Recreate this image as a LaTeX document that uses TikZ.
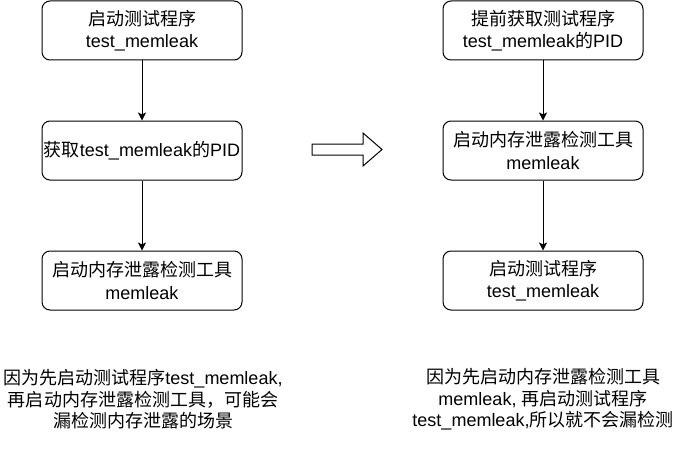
\documentclass[tikz,border=0pt]{standalone}
\usepackage{fontspec}
\setmainfont{Liberation Sans}
\newfontfamily\cjk{Noto Sans CJK SC}
\newcommand{\zh}[1]{{\cjk #1}}
\usetikzlibrary{arrows.meta}

\begin{document}
\begin{tikzpicture}[x=1pt,y=-1pt,line width=1pt,
	stepbox/.style={draw,rounded corners=8pt,minimum width=200pt,minimum height=59pt,
		inner sep=0pt,align=center,font=\fontsize{18}{22.5}\selectfont},
	note/.style={align=center,font=\fontsize{18}{21.5}\selectfont},
	flow/.style={-{Stealth[length=8pt,width=8pt,inset=2pt]}}]
	\useasboundingbox (0,0) rectangle (685,452);
	% left column
	\node[stepbox] (start) at (142,30.5) {\zh{启动测试程序}\\test\_memleak};
	\node[stepbox] (getpid) at (142,150.5) {\zh{获取}test\_memleak\zh{的}PID};
	\node[stepbox] (tool) at (142,280.5) {\zh{启动内存泄露检测工具}\\memleak};
	\draw[flow] (start) -- (getpid);
	\draw[flow] (getpid) -- (tool);
	% right column
	\node[stepbox] (pidfirst) at (543,30.5) {\zh{提前获取测试程序}\\test\_memleak\zh{的}PID};
	\node[stepbox] (toolfirst) at (543,150.5) {\zh{启动内存泄露检测工具}\\memleak};
	\node[stepbox] (startlast) at (543,280.5) {\zh{启动测试程序}\\test\_memleak};
	\draw[flow] (pidfirst) -- (toolfirst);
	\draw[flow] (toolfirst) -- (startlast);
	% block arrow
	\draw[line join=miter] (312,144) -- (363,144) -- (363,133) -- (382,149.5)
		-- (363,166) -- (363,155) -- (312,155) -- cycle;
	% notes
	\node[note] (leftnote) at (143,399.5) {\zh{因为先启动测试程序}test\_memleak,\\
		\zh{再启动内存泄露检测工具，可能会}\\\zh{漏检测内存泄露的场景}};
	\node[note] (rightnote) at (543,399.5) {\zh{因为先启动内存泄露检测工具}\\
		memleak, \zh{再启动测试程序}\\test\_memleak,\zh{所以就不会漏检测}};
\end{tikzpicture}
\end{document}
